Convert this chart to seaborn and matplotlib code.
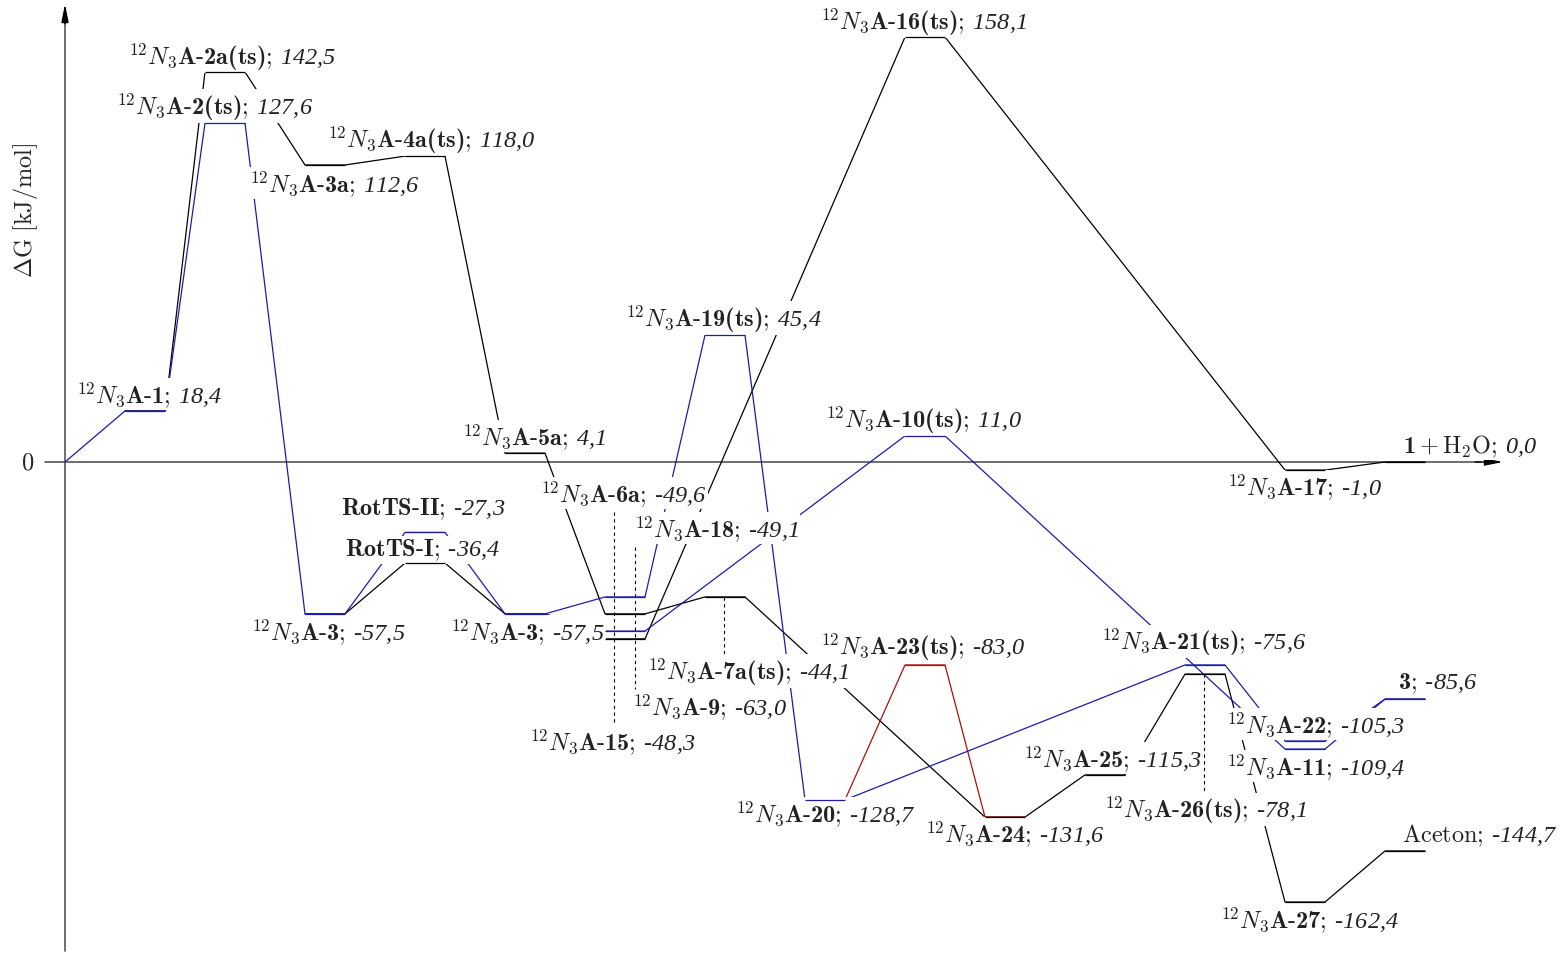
import pandas as pd
import seaborn as sns
import matplotlib.pyplot as plt

# Niveaus: Position auf der Reaktionskoordinate (Slot) und gezeichnetes dG [kJ/mol]
level_keys = ["start", "A-1", "A-2a", "A-2", "A-3a", "A-4a", "A-5a", "A-6a", "A-7a",
              "A-3 I", "RotTS-I", "RotTS-II", "A-3 II", "A-15", "A-9", "A-18",
              "A-19", "A-20", "A-23", "A-10", "A-16", "A-24", "A-25", "A-21",
              "A-26", "A-22", "A-11", "A-27", "A-17", "3", "Aceton", "H2O"]
level_x = [0, 3, 7, 7, 12, 17, 22, 27, 32,
           12, 17, 17, 22, 27, 27, 27,
           32, 37, 42, 42, 42, 46, 51, 56,
           56, 61, 61, 61, 61, 66, 66, 66]
level_dg = [0.0, 19.0, 145.1, 126.1, 110.5, 113.8, 3.3, -56.5, -50.2,
            -56.5, -37.6, -26.2, -56.5, -50.2, -62.9, -65.8,
            47.2, -125.7, -75.5, 9.7, 158.1, -132.1, -116.4, -75.5,
            -78.9, -103.8, -106.8, -163.7, -3.0, -88.2, -144.7, 0.0]

# Reaktionspfade
path_black_1 = ["A-1", "A-2a", "A-3a", "A-4a", "A-5a", "A-6a", "A-7a",
                "A-24", "A-25", "A-26", "A-27", "Aceton"]
path_black_2 = ["A-3 I", "RotTS-I", "A-3 II", "A-18", "A-16", "A-17", "H2O"]
path_red = ["A-20", "A-23", "A-24"]
path_blue_1 = ["start", "A-1", "A-2", "A-3 I", "RotTS-II", "A-3 II", "A-15",
               "A-19", "A-20", "A-21", "A-22", "3"]
path_blue_2 = ["A-3 II", "A-9", "A-10", "A-11", "3"]

# Beschriftungen: Name, Wert
label_names = ["A-1", "A-2a(ts)", "A-2(ts)", "A-3a", "A-4a(ts)", "A-5a", "A-6a",
               "A-18", "A-19(ts)", "A-10(ts)", "A-16(ts)", "A-17", "1 + H2O",
               "RotTS-II", "RotTS-I", "A-3", "A-3", "A-7a(ts)", "A-9", "A-15",
               "A-23(ts)", "A-21(ts)", "3", "A-22", "A-25", "A-11", "A-26(ts)",
               "A-20", "A-24", "Aceton", "A-27"]
label_values = [18.4, 142.5, 127.6, 112.6, 118.0, 4.1, -49.6,
                -49.1, 45.4, 11.0, 158.1, -1.0, 0.0,
                -27.3, -36.4, -57.5, -57.5, -44.1, -63.0, -48.3,
                -83.0, -75.6, -85.6, -105.3, -115.3, -109.4, -78.1,
                -128.7, -131.6, -144.7, -162.4]
# Ankerpunkte der Beschriftungen (links, Grundlinie)
label_x = [0.55, 3.15, 2.55, 9.2, 13.1, 19.85, 23.75,
           28.45, 28.0, 38.0, 37.75, 58.1, 66.9,
           13.8, 14.0, 9.3, 19.25, 29.1, 28.35, 23.2,
           37.75, 51.8, 66.65, 58.05, 47.9, 58.05, 51.95,
           33.5, 43.0, 66.85, 57.75]
label_y = [22.3, 148.1, 129.5, 100.8, 117.2, 6.7, -14.5,
           -27.5, 50.6, 13.0, 161.1, -11.9, 3.7,
           -19.6, -34.8, -65.8, -65.8, -80.7, -93.8, -106.8,
           -71.4, -69.6, -84.1, -100.4, -113.1, -116.1, -132.1,
           -133.6, -141.0, -141.0, -173.0]

# gestrichelte Hilfslinien
leader_x = [27.45, 28.5, 32.95, 56.95]
leader_top = [-18.6, -31.6, -50.2, -78.9]
leader_bot = [-97.5, -84.4, -71.4, -122.8]

LEVEL_W = 2.0
BLUE = "#1c1ca8"
RED = "#a81010"
AXIS = "#555555"
FS = 17.5


def path_frame(keys):
    xs, ys = [], []
    for k in keys:
        i = level_keys.index(k)
        w = 0.0 if k == "start" else LEVEL_W
        xs += [level_x[i], level_x[i] + w]
        ys += [level_dg[i], level_dg[i]]
    return pd.DataFrame({"x": xs, "y": ys})


def fmt_label(name, val):
    num = f"{val:.1f}".replace(".", "{,}").replace("-", "\u2010")
    v = r"$\mathsf{" + num + "}$"
    if name == "1 + H2O":
        return r"$\mathbf{1}+\mathrm{H_2O}$; " + v
    if name == "Aceton":
        return "Aceton; " + v
    if name == "3":
        return r"$\mathbf{3}$; " + v
    n = name.replace("-", r"\text{-}")
    if name.startswith("RotTS"):
        return r"$\mathbf{" + n + "}$; " + v
    return r"$^{12}N_3\mathbf{" + n + "}$; " + v


sns.set_theme(style="white")
plt.rcParams["mathtext.fontset"] = "custom"
plt.rcParams["mathtext.rm"] = "cmr10"
plt.rcParams["mathtext.it"] = "cmmi10"
plt.rcParams["mathtext.bf"] = "cmb10"
plt.rcParams["mathtext.sf"] = "Liberation Serif:italic"
plt.rcParams["font.family"] = ["cmr10", "DejaVu Serif"]
plt.rcParams["axes.unicode_minus"] = False

fig = plt.figure(figsize=(15.67, 9.54), dpi=100)
ax = fig.add_axes([0, 0, 1, 1])
ax.set_xlim(-3.25, 75.1)
ax.set_ylim(-182.66, 172.25)
ax.axis("off")

# Achsen: graue Linien, schwarze Pfeilspitzen
ax.plot([0, 0], [-182.0, 165.0], color=AXIS, lw=1.2, zorder=1)
ax.plot([-1.0, 70.8], [0, 0], color=AXIS, lw=1.2, zorder=1)
arrow = dict(arrowstyle="-|>,head_length=0.9,head_width=0.18", color="black",
             lw=1.0, shrinkA=0, shrinkB=0)
ax.annotate("", xy=(0, 170.4), xytext=(0, 163.0), arrowprops=arrow, zorder=1)
ax.annotate("", xy=(71.9, 0), xytext=(70.5, 0), arrowprops=arrow, zorder=1)
ax.text(-1.55, 0, "0", ha="right", va="center", fontsize=FS)
ax.text(-2.0, 94.0, r"$\Delta\mathrm{G}\ [\mathrm{kJ/mol}]$", rotation=90,
        ha="center", va="center", fontsize=FS)

# Verbindungslinien (unter den Beschriftungen)
paths = [(path_black_1, "black"), (path_black_2, "black"), (path_red, RED),
         (path_blue_1, BLUE), (path_blue_2, BLUE)]
for keys, col in paths:
    sns.lineplot(data=path_frame(keys), x="x", y="y", sort=False, estimator=None,
                 color=col, lw=0.9, ax=ax, zorder=2)

# Niveaus selbst obenauf, Farbe: blau > schwarz > rot
for i, k in enumerate(level_keys):
    if k == "start":
        continue
    cols = [c for keys, c in paths if k in keys]
    col = BLUE if BLUE in cols else ("black" if "black" in cols else RED)
    ax.plot([level_x[i], level_x[i] + LEVEL_W], [level_dg[i]] * 2,
            color=col, lw=0.9, zorder=4, solid_capstyle="butt")

for lx, t, b in zip(leader_x, leader_top, leader_bot):
    ax.plot([lx, lx], [t, b], color="black", lw=0.8, ls=(0, (3, 3)), zorder=2)

for name, val, x, y in zip(label_names, label_values, label_x, label_y):
    ax.text(x, y, fmt_label(name, val), ha="left", va="baseline", fontsize=FS,
            color="#222222", zorder=3,
            bbox=dict(boxstyle="square,pad=0.05", facecolor="white", edgecolor="none"))

fig.savefig("out.png", dpi=100)
